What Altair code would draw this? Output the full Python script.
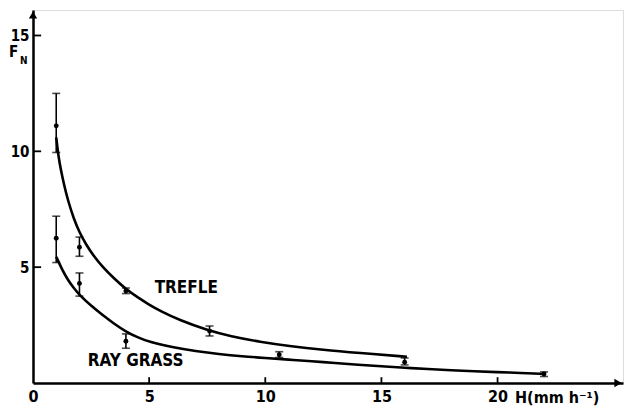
import altair as alt
import pandas as pd

# ---- measured points with error bars ----
trefle_H = [1.0, 2.0, 4.0, 7.6, 16.0]
trefle_F = [11.1, 5.86, 3.97, 2.24, 0.9]
trefle_lo = [9.95, 5.47, 3.86, 2.03, 0.78]
trefle_hi = [12.5, 6.3, 4.1, 2.46, 1.08]

ray_H = [1.0, 2.0, 4.0, 10.6, 22.0]
ray_F = [6.25, 4.3, 1.8, 1.22, 0.39]
ray_lo = [5.2, 3.75, 1.5, 1.1, 0.28]
ray_hi = [7.2, 4.75, 2.12, 1.35, 0.48]

# ---- fitted curves ----
trefle_curve_H = [1.0, 1.1, 1.2, 1.35, 1.5, 1.75, 2.0, 2.3, 2.6, 3.0, 3.5, 4.0, 4.5,
                  5.0, 5.5, 6.3, 7.5, 8.5, 9.8, 11.0, 12.5, 14.0, 16.1]
trefle_curve_F = [10.6, 9.75, 9.2, 8.5, 7.9, 7.1, 6.5, 5.95, 5.5, 5.0, 4.5, 4.05, 3.7,
                  3.38, 3.1, 2.72, 2.28, 2.02, 1.77, 1.6, 1.43, 1.3, 1.13]

ray_curve_H = [1.0, 1.25, 1.5, 1.75, 2.0, 2.5, 3.0, 3.5, 4.0, 4.5, 5.0, 6.0, 7.0,
               8.0, 9.0, 10.0, 11.0, 12.0, 13.0, 14.0, 15.0, 16.0, 17.0, 18.0,
               19.0, 20.0, 21.0, 22.0]
ray_curve_F = [5.45, 4.9, 4.45, 4.1, 3.8, 3.33, 2.93, 2.55, 2.22, 1.97, 1.77, 1.54,
               1.38, 1.25, 1.15, 1.08, 1.01, 0.94, 0.86, 0.79, 0.72, 0.66, 0.6,
               0.55, 0.51, 0.47, 0.43, 0.39]

# ---- axes ----
x_ticks = [5, 10, 15, 20]
x_labels = [0, 5, 10, 15, 20]
y_ticks = [5, 10, 15]
x_max = 25.4
y_max = 16.1

series_labels = ["TREFLE", "RAY GRASS"]
series_label_H = [6.6, 4.42]
series_label_F = [3.88, 0.73]

FONT = "DejaVu Sans Condensed, DejaVu Sans"

pts = pd.DataFrame({
    "series": ["TREFLE"] * len(trefle_H) + ["RAY GRASS"] * len(ray_H),
    "H": trefle_H + ray_H,
    "F": trefle_F + ray_F,
    "lo": trefle_lo + ray_lo,
    "hi": trefle_hi + ray_hi,
})
curves = pd.DataFrame({
    "series": ["TREFLE"] * len(trefle_curve_H) + ["RAY GRASS"] * len(ray_curve_H),
    "H": trefle_curve_H + ray_curve_H,
    "F": trefle_curve_F + ray_curve_F,
})

xscale = alt.Scale(domain=[0, x_max], nice=False, zero=False)
yscale = alt.Scale(domain=[0, y_max], nice=False, zero=False)

axis_common = dict(tickSize=0, domainWidth=2.5, domainColor="black", grid=False,
                   title=None, labelFont=FONT, labelFontWeight="bold",
                   labelColor="black")

xax = alt.Axis(values=x_labels, labelPadding=5, labelFlush=False, labelFontSize=16,
               **axis_common)
yax = alt.Axis(values=y_ticks, labelPadding=4, labelFontSize=15, **axis_common)

curve_layer = alt.Chart(curves).mark_line(
    color="black", strokeWidth=2.6, interpolate="basis"
).encode(
    x=alt.X("H:Q", scale=xscale, axis=xax),
    y=alt.Y("F:Q", scale=yscale, axis=yax),
    detail="series:N",
)

bars = alt.Chart(pts).mark_rule(color="black", strokeWidth=1.6).encode(
    x="H:Q", y="lo:Q", y2="hi:Q"
)
cap_lo = alt.Chart(pts).mark_tick(color="black", thickness=1.6, size=8,
                                  orient="horizontal").encode(x="H:Q", y="lo:Q")
cap_hi = alt.Chart(pts).mark_tick(color="black", thickness=1.6, size=8,
                                  orient="horizontal").encode(x="H:Q", y="hi:Q")
dots = alt.Chart(pts).mark_circle(color="black", size=24, opacity=1).encode(
    x="H:Q", y="F:Q"
)

xt = pd.DataFrame({"t": x_ticks, "a": [0] * len(x_ticks), "b": [0.25] * len(x_ticks)})
yt = pd.DataFrame({"t": y_ticks, "a": [0] * len(y_ticks), "b": [0.35] * len(y_ticks)})
xtick_layer = alt.Chart(xt).mark_rule(color="black", strokeWidth=1.8).encode(
    x="t:Q", y="a:Q", y2="b:Q")
ytick_layer = alt.Chart(yt).mark_rule(color="black", strokeWidth=1.8).encode(
    y="t:Q", x="a:Q", x2="b:Q")

lab = pd.DataFrame({"name": series_labels, "H": series_label_H, "F": series_label_F})
labels = alt.Chart(lab).mark_text(font=FONT, fontSize=17, fontWeight="bold",
                                  color="black", baseline="alphabetic",
                                  align="center").encode(x="H:Q", y="F:Q", text="name:N")

arrow_up = alt.Chart(pd.DataFrame({"x": [0], "y": [y_max]})).mark_point(
    shape="triangle-up", filled=True, color="black", size=70, opacity=1, yOffset=5
).encode(x="x:Q", y="y:Q")
arrow_right = alt.Chart(pd.DataFrame({"x": [x_max], "y": [0]})).mark_point(
    shape="triangle-right", filled=True, color="black", size=70, opacity=1, xOffset=-5
).encode(x="x:Q", y="y:Q")

fn_F = alt.Chart(pd.DataFrame({"t": ["F"]})).mark_text(
    font=FONT, fontSize=15, fontWeight="bold", color="black", align="left",
    baseline="alphabetic").encode(x=alt.value(-24), y=alt.value(47), text="t:N")
fn_N = alt.Chart(pd.DataFrame({"t": ["N"]})).mark_text(
    font=FONT, fontSize=10, fontWeight="bold", color="black", align="left",
    baseline="alphabetic").encode(x=alt.value(-13), y=alt.value(54), text="t:N")
h_title = alt.Chart(pd.DataFrame({"t": ["H(mm h\u207b\u00b9)"]})).mark_text(
    font=FONT, fontSize=16, fontWeight="bold", color="black", align="left",
    baseline="alphabetic").encode(x=alt.value(482), y=alt.value(393), text="t:N")

chart = alt.layer(
    curve_layer, bars, cap_lo, cap_hi, dots, xtick_layer, ytick_layer, labels,
    arrow_up, arrow_right, fn_F, fn_N, h_title
).properties(
    width=590, height=373,
    autosize=alt.AutoSizeParams(type="none"),
    padding={"left": 25, "top": 2, "right": 3, "bottom": 26},
).configure_view(strokeWidth=0, stroke="transparent").configure(background="white")

chart.save("out.html", embed_options={"renderer": "svg", "actions": False})
